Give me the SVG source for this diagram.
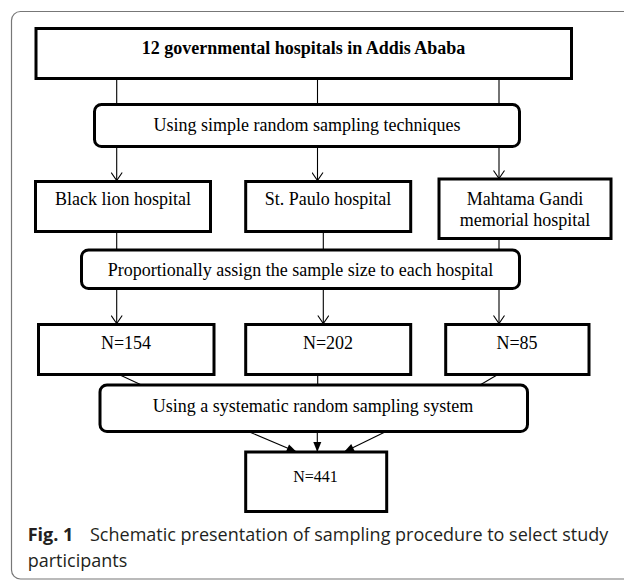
<svg xmlns="http://www.w3.org/2000/svg" width="624" height="580" viewBox="0 0 624 580">
<defs>
<style>
.box{fill:#fff;stroke:#000;stroke-width:3}
.t{font-family:"Liberation Serif","Times New Roman",serif;font-size:18px;fill:#000;text-anchor:middle}
.b{font-weight:bold}
.c{fill:none;stroke:#000;stroke-width:1.1}
.o{marker-end:url(#open)}
.f{marker-end:url(#fill)}
.cap{font-family:"Open Sans","Noto Sans","Liberation Sans",sans-serif;font-size:18px;fill:#231f20}
</style>
<marker id="open" viewBox="-10 -6 12 12" refX="0" refY="0" markerWidth="12" markerHeight="12" markerUnits="userSpaceOnUse" orient="auto">
<path d="M-8,-5.5 L0,0 L-8,5.5" fill="none" stroke="#000" stroke-width="1.1"/>
</marker>
<marker id="fill" viewBox="-11 -6 12 12" refX="0" refY="0" markerWidth="12" markerHeight="12" markerUnits="userSpaceOnUse" orient="auto">
<path d="M-10,-4 L0,0 L-10,4 Z" fill="#000"/>
</marker>
</defs>
<rect width="624" height="580" fill="#fff"/>
<path d="M624,11.5 H20.5 A9,9 0 0 0 11.5,20.5 V570 A9,9 0 0 0 20.5,579 H624" fill="none" stroke="#777" stroke-width="1.2"/>

<g id="connectors">
<line class="c" x1="116.7" y1="78" x2="116.7" y2="104"/>
<line class="c" x1="317.5" y1="78" x2="317.5" y2="104"/>
<line class="c" x1="499" y1="78" x2="499" y2="104"/>
<line class="c o" x1="116.7" y1="146.5" x2="116.7" y2="180.5"/>
<line class="c o" x1="317.5" y1="146.5" x2="317.5" y2="180.5"/>
<line class="c o" x1="499" y1="146.5" x2="499" y2="178.5"/>
<line class="c" x1="116.7" y1="231.5" x2="116.7" y2="250"/>
<line class="c" x1="323.3" y1="231.5" x2="323.3" y2="250"/>
<line class="c" x1="499" y1="231.5" x2="499" y2="250"/>
<line class="c o" x1="116.7" y1="288.5" x2="116.7" y2="323.5"/>
<line class="c o" x1="323.3" y1="288.5" x2="323.3" y2="323.5"/>
<line class="c o" x1="499" y1="288.5" x2="499" y2="323.5"/>
<line class="c" x1="120" y1="375" x2="141.5" y2="385"/>
<line class="c" x1="317.7" y1="374.5" x2="317.7" y2="385"/>
<line class="c" x1="497" y1="375" x2="480" y2="385"/>
<line class="c f" x1="248.3" y1="431.5" x2="296.7" y2="452"/>
<line class="c f" x1="317.3" y1="431.5" x2="317.3" y2="452"/>
<line class="c f" x1="386" y1="431.5" x2="344" y2="452"/>
</g>

<g id="n-top">
<rect class="box" x="36" y="28.5" width="535.5" height="50"/>
<text class="t b" x="303.5" y="53.5">12 governmental hospitals in Addis Ababa</text>
</g>
<g id="n-simple">
<rect class="box" x="94.5" y="104.5" width="425" height="42" rx="7"/>
<text class="t" x="307" y="131">Using simple random sampling techniques</text>
</g>
<g id="n-blacklion">
<rect class="box" x="35.5" y="181.5" width="175" height="50"/>
<text class="t" x="123" y="205">Black lion hospital</text>
</g>
<g id="n-stpaulo">
<rect class="box" x="245.7" y="181.5" width="165" height="50"/>
<text class="t" x="328" y="205">St. Paulo hospital</text>
</g>
<g id="n-mahtama">
<rect class="box" x="439" y="179" width="172" height="59.5"/>
<text class="t" x="525" y="205">Mahtama Gandi</text>
<text class="t" x="525" y="225.5">memorial hospital</text>
</g>
<g id="n-proportion">
<rect class="box" x="81.5" y="250" width="438" height="38.5" rx="7"/>
<text class="t" x="300.5" y="276">Proportionally assign the sample size to each hospital</text>
</g>
<g id="n-154">
<rect class="box" x="38.5" y="324.5" width="175.5" height="50"/>
<text class="t" x="126" y="348.5">N=154</text>
</g>
<g id="n-202">
<rect class="box" x="245.7" y="324.5" width="165" height="50"/>
<text class="t" x="328" y="348.5">N=202</text>
</g>
<g id="n-85">
<rect class="box" x="445.7" y="324.5" width="143.3" height="50"/>
<text class="t" x="517" y="348.5">N=85</text>
</g>
<g id="n-systematic">
<rect class="box" x="100" y="385" width="427.5" height="46.5" rx="7"/>
<text class="t" x="313" y="412">Using a systematic random sampling system</text>
</g>
<g id="n-441">
<rect class="box" x="245.7" y="452" width="141" height="59.5"/>
<text class="t" x="315.5" y="481.5" style="font-size:16px">N=441</text>
</g>

<g id="caption">
<text class="cap" x="27.7" y="541" style="font-weight:bold">Fig. 1</text>
<text class="cap" x="90" y="541">Schematic presentation of sampling procedure to select study</text>
<text class="cap" x="27.7" y="566.5">participants</text>
</g>
</svg>
